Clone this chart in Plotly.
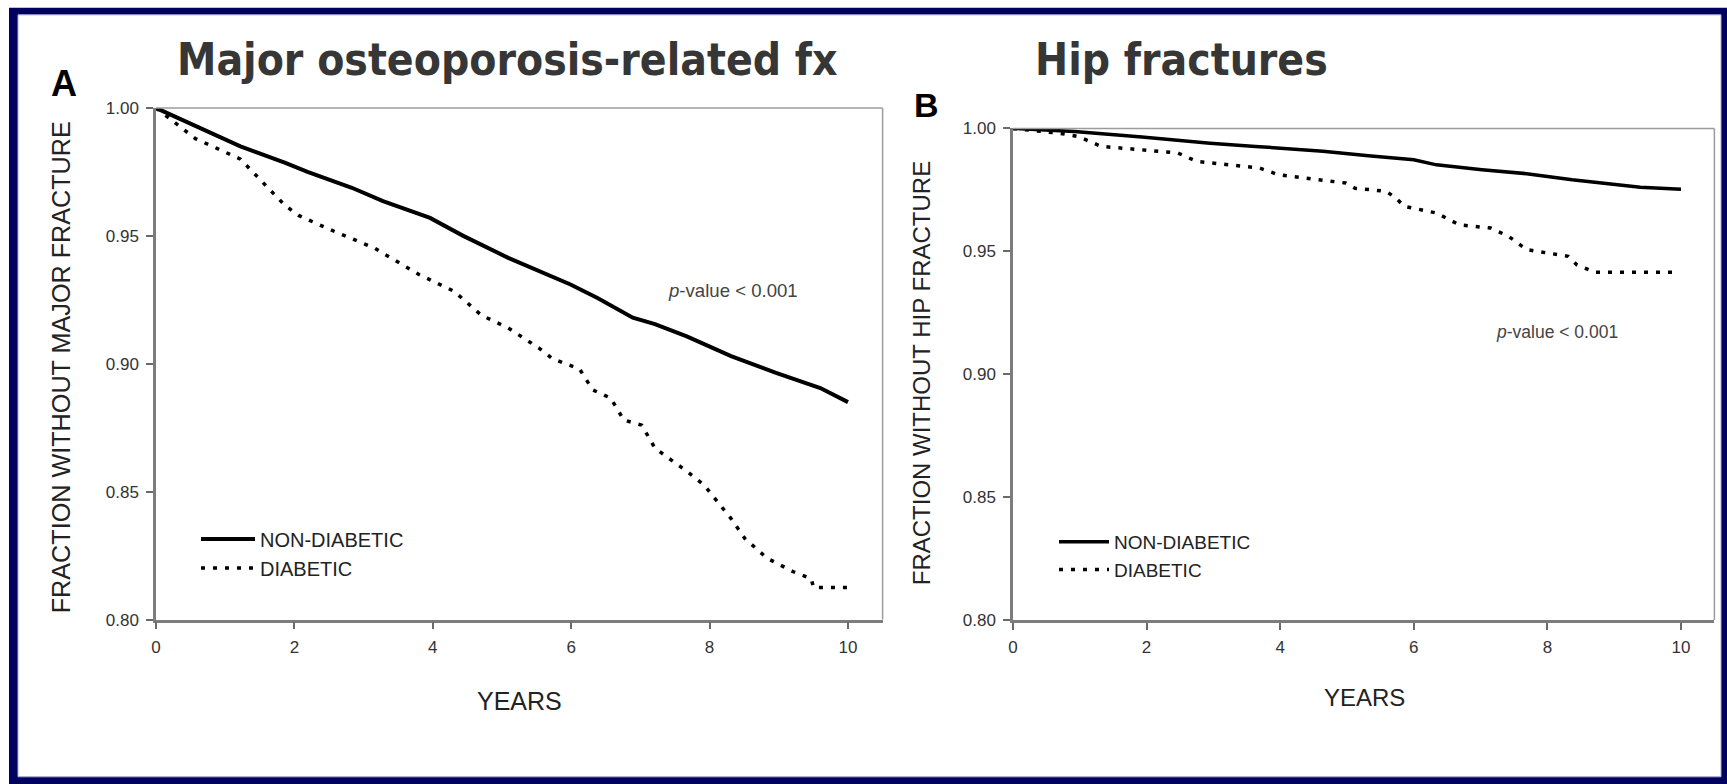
import plotly.graph_objects as go

W, H = 1727, 784

# Panel A: major osteoporosis-related fractures (years, fraction without fracture)
years_major_nondiab = [0, 0.57, 1.22, 1.86, 2.19, 2.83, 3.28, 3.96, 4.44, 5.09, 5.54,
                       5.99, 6.38, 6.89, 7.21, 7.67, 8.31, 8.96, 9.6, 9.86, 10.0]
frac_major_nondiab = [1.0, 0.993, 0.985, 0.9786, 0.975, 0.9688, 0.9636, 0.957, 0.950,
                      0.9414, 0.936, 0.931, 0.9257, 0.918, 0.9155, 0.9107, 0.903,
                      0.8964, 0.8905, 0.887, 0.885]

years_major_diab = [0, 0.57, 1.22, 1.86, 2.06, 2.51, 3.15, 3.8, 4.31, 4.70, 5.09, 5.54,
                    5.73, 6.12, 6.31, 6.57, 6.76, 7.02, 7.21, 7.67, 7.92, 8.12, 8.31,
                    8.51, 8.83, 9.21, 9.47, 9.5, 10.0]
frac_major_diab = [1.0, 0.988, 0.980, 0.962, 0.958, 0.9525, 0.9453, 0.9349, 0.9283,
                   0.919, 0.914, 0.906, 0.902, 0.898, 0.8898, 0.8866, 0.878, 0.876,
                   0.867, 0.858, 0.8526, 0.846, 0.8395, 0.8317, 0.824, 0.8187, 0.816,
                   0.8125, 0.8125]

# Panel B: hip fractures
years_hip_nondiab = [0, 0.92, 1.93, 2.95, 3.63, 4.64, 5.32, 6.0, 6.34, 7.02, 7.69,
                     8.37, 9.05, 9.39, 10.0]
frac_hip_nondiab = [1.0, 0.9988, 0.9965, 0.994, 0.9927, 0.9907, 0.9889, 0.9873, 0.9852,
                    0.9832, 0.9816, 0.9791, 0.9771, 0.9761, 0.9753]

years_hip_diab = [0, 0.71, 0.98, 1.32, 1.93, 2.47, 2.75, 3.29, 3.69, 3.97, 4.64, 4.98,
                  5.12, 5.59, 5.73, 5.86, 6.34, 6.68, 7.15, 7.42, 7.69, 8.31, 8.44,
                  8.71, 9.93]
frac_hip_diab = [1.0, 0.998, 0.9967, 0.9927, 0.9913, 0.990, 0.9866, 0.9852, 0.9839,
                 0.9812, 0.9791, 0.9778, 0.9757, 0.9744, 0.9717, 0.9683, 0.9656,
                 0.9608, 0.9595, 0.9561, 0.9507, 0.948, 0.9446, 0.9415, 0.9415]

group_names = ["NON-DIABETIC", "DIABETIC"]
x_ticks = [0, 2, 4, 6, 8, 10]
y_ticks = [0.80, 0.85, 0.90, 0.95, 1.00]
panel_titles = ["Major osteoporosis-related fx", "Hip fractures"]
y_titles = ["FRACTION WITHOUT MAJOR FRACTURE", "FRACTION WITHOUT HIP FRACTURE"]
p_text = "<i>p</i>-value &lt; 0.001"

FONT = "Liberation Sans, Arial, Helvetica, sans-serif"
TITLE_FONT = "DejaVu Sans Condensed, Liberation Sans, Arial, sans-serif"
NAVY = "#00005e"

# pixel -> paper conversion (the paper area sits slightly inside the page)
PAPER_L, PAPER_T = 4, 8.2
PAPER_W, PAPER_H = 1722, 764


def px(x):
    return (x - PAPER_L) / PAPER_W


def py(y):
    return 1 - (y - PAPER_T) / PAPER_H


fig = go.Figure()

dot_dash = "4px,8px"
for xs, ys, name, dash, lw, xa, ya, lg in [
    (years_major_nondiab, frac_major_nondiab, group_names[0], "solid", 4, "x", "y", "legend"),
    (years_major_diab, frac_major_diab, group_names[1], dot_dash, 3.5, "x", "y", "legend"),
    (years_hip_nondiab, frac_hip_nondiab, group_names[0], "solid", 3.5, "x2", "y2", "legend2"),
    (years_hip_diab, frac_hip_diab, group_names[1], dot_dash, 3.5, "x2", "y2", "legend2"),
]:
    fig.add_trace(go.Scatter(
        x=xs, y=ys, name=name, mode="lines",
        line=dict(color="black", width=lw, dash=dash),
        xaxis=xa, yaxis=ya, legend=lg, showlegend=True,
    ))

axis_common = dict(
    showline=True, linecolor="#7c7c7c", linewidth=2.5,
    ticks="outside", ticklen=7, tickwidth=1.5, tickcolor="#6a6a6a",
    showgrid=False, zeroline=False,
    tickfont=dict(family=FONT, size=17, color="#333333"),
)

fig.update_layout(
    width=W, height=H,
    margin=dict(l=0, r=0, t=0, b=0),
    paper_bgcolor="white", plot_bgcolor="white",
    xaxis=dict(domain=[px(155), px(881.6)], range=[0, 10.5], tickvals=x_ticks,
               anchor="y", ticklabelstandoff=3, **axis_common),
    yaxis=dict(domain=[py(618), py(107)], range=[0.80, 1.00], tickvals=y_ticks,
               tickformat=".2f", anchor="x", ticklabelstandoff=4, **axis_common),
    xaxis2=dict(domain=[px(1012), px(1713.4)], range=[0, 10.5], tickvals=x_ticks,
                anchor="y2", ticklabelstandoff=3, **axis_common),
    yaxis2=dict(domain=[py(618.5), py(127.5)], range=[0.80, 1.00], tickvals=y_ticks,
                tickformat=".2f", anchor="x2", ticklabelstandoff=4, **axis_common),
    legend=dict(x=px(195), y=py(518), xanchor="left", yanchor="top",
                font=dict(family=FONT, size=20, color="#222222"),
                itemwidth=54, bgcolor="rgba(0,0,0,0)", tracegroupgap=0),
    legend2=dict(x=px(1053), y=py(521.5), xanchor="left", yanchor="top",
                 font=dict(family=FONT, size=19, color="#222222"),
                 itemwidth=50, bgcolor="rgba(0,0,0,0)", tracegroupgap=0),
    showlegend=True,
)

shapes = [
    # outer navy frame, running off the right and bottom edges
    dict(type="rect", xref="paper", yref="paper", x0=px(8), x1=px(W + 20),
         y0=py(H + 20), y1=py(7),
         fillcolor=NAVY, line=dict(width=0), layer="below"),
    dict(type="rect", xref="paper", yref="paper", x0=px(17), x1=px(1720), y0=py(775), y1=py(14),
         fillcolor="white", line=dict(color="#a8a8d4", width=1), layer="below"),
]
# light top and right borders of each plot box
for xr, yr in [("x domain", "y domain"), ("x2 domain", "y2 domain")]:
    shapes.append(dict(type="line", xref=xr, yref=yr, x0=0, x1=1, y0=1, y1=1,
                       line=dict(color="#9c9c9c", width=1.5)))
    shapes.append(dict(type="line", xref=xr, yref=yr, x0=1, x1=1, y0=0, y1=1,
                       line=dict(color="#9c9c9c", width=1.5)))
fig.update_layout(shapes=shapes)


def note(text, x, y, size, color="#222222", bold=False, angle=0, family=FONT):
    fig.add_annotation(
        text=text, x=px(x), y=py(y), xref="paper", yref="paper",
        xanchor="center", yanchor="middle", showarrow=False, textangle=angle,
        font=dict(family=family, size=size, color=color, weight="bold" if bold else "normal"),
    )


note(panel_titles[0], 506, 59, 44, color="#363636", bold=True, family=TITLE_FONT)
note(panel_titles[1], 1180, 59, 44, color="#363636", bold=True, family=TITLE_FONT)
note("A", 63, 82.5, 36, color="black", bold=True)
note("B", 925, 104.5, 34, color="black", bold=True)
note(y_titles[0], 60, 366, 25.2, angle=-90)
note(y_titles[1], 920, 372, 24, angle=-90)
note("YEARS", 518, 699, 25)
note("YEARS", 1363, 696, 24)
note(p_text, 731.5, 289.5, 18.6, color="#444444")
note(p_text, 1555.5, 331, 17.5, color="#444444")

fig.write_html("out.html")
